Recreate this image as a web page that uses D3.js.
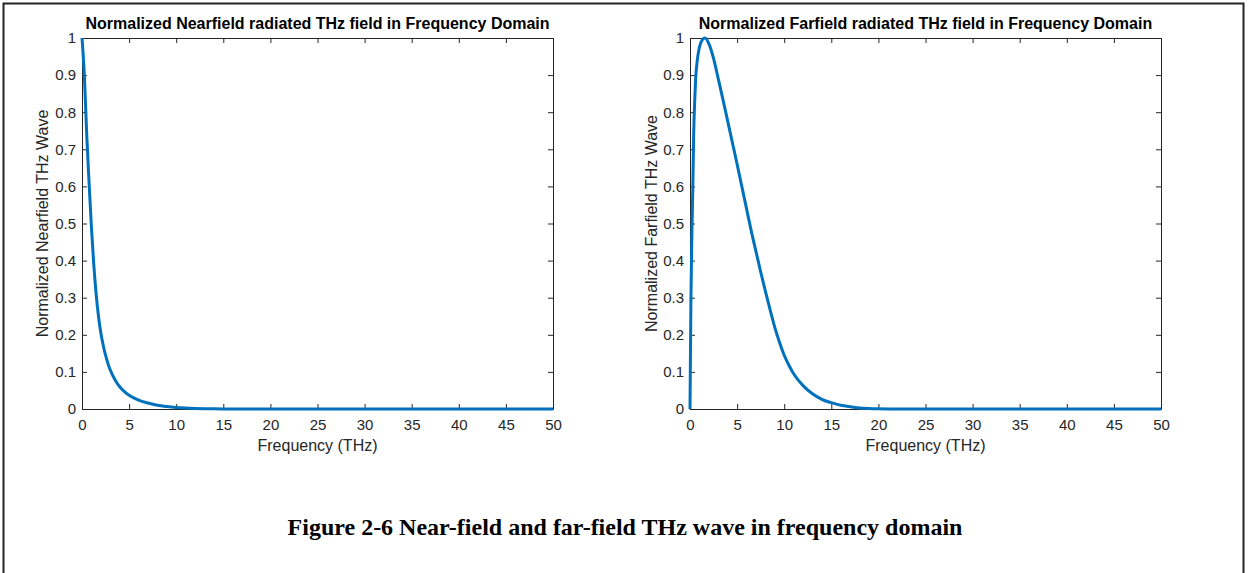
<!DOCTYPE html>
<html>
<head>
<meta charset="utf-8">
<script src="https://cdn.jsdelivr.net/npm/d3@7"></script>
<style>
body { margin: 0; background: #fff; }
svg { display: block; font-family: "Liberation Sans", Arial, Helvetica, sans-serif; }
</style>
</head>
<body>
<svg id="fig" width="1249" height="573"></svg>
<script>
// axis ticks shared by both plots
var freqTicks = [0, 5, 10, 15, 20, 25, 30, 35, 40, 45, 50];
var ampTicks = [0, 0.1, 0.2, 0.3, 0.4, 0.5, 0.6, 0.7, 0.8, 0.9, 1];
var ampTickLabels = ["0", "0.1", "0.2", "0.3", "0.4", "0.5", "0.6", "0.7", "0.8", "0.9", "1"];

// near-field spectrum
var nearFreq = [0, 0.25, 0.5, 0.75, 1, 1.25, 1.5, 1.75, 2, 2.25, 2.5, 2.75, 3, 3.5, 4, 4.5, 5, 6, 7, 8, 9, 10, 11, 12, 13, 14, 15, 20, 30, 40, 50];
var nearVal = [1, 0.9, 0.74, 0.61, 0.49, 0.39, 0.31, 0.25, 0.205, 0.172, 0.145, 0.123, 0.105, 0.079, 0.06, 0.047, 0.037, 0.024, 0.016, 0.01, 0.0065, 0.004, 0.0025, 0.0015, 0.0008, 0.0004, 0.0002, 0, 0, 0, 0];

// far-field spectrum
var farFreq = [0, 0.1, 0.2, 0.3, 0.4, 0.5, 0.6, 0.8, 1, 1.3, 1.6, 2, 2.5, 3, 3.5, 4, 4.5, 5, 5.5, 6, 6.5, 7, 7.5, 8, 8.5, 9, 9.5, 10, 10.5, 11, 12, 13, 14, 15, 16, 17, 18, 19, 20, 22, 30, 40, 50];
var farVal = [0, 0.3, 0.47, 0.6, 0.75, 0.83, 0.89, 0.945, 0.975, 0.995, 1, 0.985, 0.945, 0.89, 0.834, 0.776, 0.718, 0.66, 0.6, 0.54, 0.48, 0.425, 0.37, 0.318, 0.268, 0.22, 0.18, 0.145, 0.118, 0.095, 0.063, 0.041, 0.026, 0.017, 0.01, 0.006, 0.003, 0.0015, 0.0007, 0, 0, 0, 0];

var panelTitles = ["Normalized Nearfield radiated THz field in Frequency Domain",
                   "Normalized Farfield radiated THz field in Frequency Domain"];
var yLabels = ["Normalized Nearfield THz Wave", "Normalized Farfield THz Wave"];
var xLabel = "Frequency (THz)";
var caption = "Figure 2-6 Near-field and far-field THz wave in frequency domain";

var svg = d3.select("#fig");
var axisColor = "#262626";
var lineColor = "#0072bd";

// page frame
svg.append("path")
	.attr("d", "M3.5,573V3.5H1243.5V573")
	.attr("fill", "none")
	.attr("stroke", "#222")
	.attr("stroke-width", 2);

var panels = [
	{ left: 82, right: 553, freq: nearFreq, val: nearVal, title: panelTitles[0], ylab: yLabels[0], ylabX: 42 },
	{ left: 690, right: 1161, freq: farFreq, val: farVal, title: panelTitles[1], ylab: yLabels[1], ylabX: 651 }
];
var plotTop = 38, plotBottom = 409;

panels.forEach(function (p) {
	var x = d3.scaleLinear().domain([0, 50]).range([p.left, p.right]);
	var y = d3.scaleLinear().domain([0, 1]).range([plotBottom, plotTop]);
	var g = svg.append("g");

	var fmtY = function (d) { return ampTickLabels[ampTicks.indexOf(d)]; };

	var axes = [
		g.append("g").attr("transform", "translate(0," + plotBottom + ")")
			.call(d3.axisBottom(x).tickValues(freqTicks).tickSizeInner(-5).tickSizeOuter(0).tickPadding(10)),
		g.append("g").attr("transform", "translate(0," + plotTop + ")")
			.call(d3.axisTop(x).tickValues(freqTicks).tickSizeInner(-5).tickSizeOuter(0).tickFormat("")),
		g.append("g").attr("transform", "translate(" + p.left + ",0)")
			.call(d3.axisLeft(y).tickValues(ampTicks).tickFormat(fmtY).tickSizeInner(-5).tickSizeOuter(0).tickPadding(6)),
		g.append("g").attr("transform", "translate(" + p.right + ",0)")
			.call(d3.axisRight(y).tickValues(ampTicks).tickSizeInner(-5).tickSizeOuter(0).tickFormat(""))
	];
	axes.forEach(function (a) {
		a.select(".domain").attr("stroke", axisColor);
		a.selectAll(".tick line").attr("stroke", axisColor);
		a.selectAll(".tick text").attr("fill", axisColor).style("font-size", "15px");
	});

	g.append("text")
		.attr("x", (p.left + p.right) / 2)
		.attr("y", 29)
		.attr("text-anchor", "middle")
		.style("font-size", "16px")
		.style("font-weight", "bold")
		.attr("fill", "#000")
		.text(p.title);

	g.append("text")
		.attr("x", (p.left + p.right) / 2)
		.attr("y", 451)
		.attr("text-anchor", "middle")
		.style("font-size", "16px")
		.attr("fill", axisColor)
		.text(xLabel);

	g.append("text")
		.attr("transform", "translate(" + p.ylabX + "," + (plotTop + plotBottom) / 2 + ") rotate(-90)")
		.attr("dy", "0.35em")
		.attr("text-anchor", "middle")
		.style("font-size", "16px")
		.attr("fill", axisColor)
		.text(p.ylab);

	var pts = p.freq.map(function (f, i) { return [f, p.val[i]]; });
	var line = d3.line()
		.x(function (d) { return x(d[0]); })
		.y(function (d) { return y(d[1]); })
		.curve(d3.curveMonotoneX);

	g.append("path")
		.datum(pts)
		.attr("d", line)
		.attr("fill", "none")
		.attr("stroke", lineColor)
		.attr("stroke-width", 3)
		.attr("stroke-linejoin", "round");
});

svg.append("text")
	.attr("x", 625)
	.attr("y", 535)
	.attr("text-anchor", "middle")
	.style("font-family", "'Liberation Serif', 'Times New Roman', serif")
	.style("font-size", "24px")
	.style("font-weight", "bold")
	.attr("fill", "#000")
	.text(caption);
</script>
</body>
</html>
